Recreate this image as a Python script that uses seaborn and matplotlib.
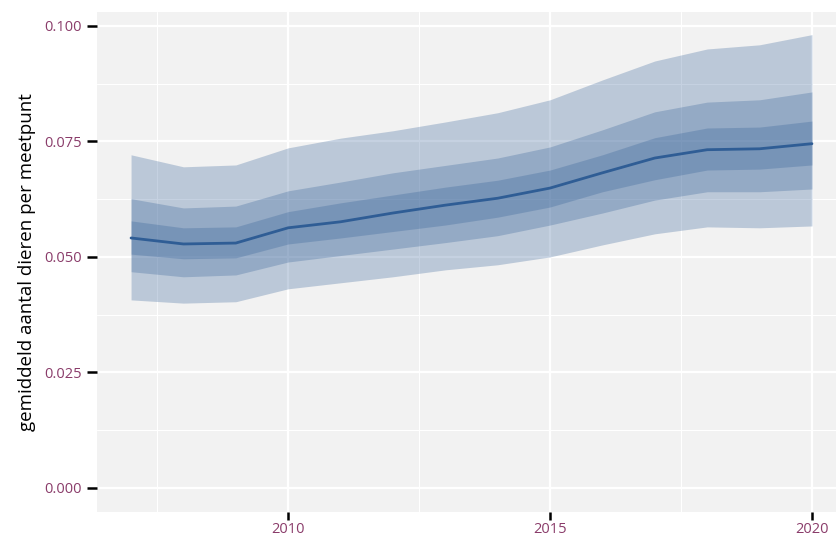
import matplotlib
matplotlib.use("Agg")
import matplotlib.pyplot as plt
import numpy as np
import pandas as pd
import seaborn as sns

# ---------------------- data ----------------------
jaren = [2007, 2008, 2009, 2010, 2011, 2012, 2013, 2014, 2015, 2016, 2017, 2018, 2019, 2020]
mediaan = [0.0541, 0.0528, 0.0530, 0.0563, 0.0576, 0.0595, 0.0612, 0.0627, 0.0649, 0.0682, 0.0714, 0.0732, 0.0734, 0.0745]
buiten_hoog = [0.0721, 0.0695, 0.0699, 0.0736, 0.0757, 0.0773, 0.0792, 0.0812, 0.0840, 0.0883, 0.0924, 0.0950, 0.0959, 0.0981]
buiten_laag = [0.0407, 0.0400, 0.0403, 0.0431, 0.0444, 0.0457, 0.0472, 0.0483, 0.0500, 0.0526, 0.0550, 0.0565, 0.0563, 0.0567]
midden_hoog = [0.0626, 0.0606, 0.0610, 0.0643, 0.0662, 0.0682, 0.0698, 0.0714, 0.0738, 0.0775, 0.0814, 0.0835, 0.0840, 0.0857]
midden_laag = [0.0468, 0.0457, 0.0461, 0.0489, 0.0503, 0.0517, 0.0531, 0.0546, 0.0569, 0.0595, 0.0623, 0.0641, 0.0641, 0.0647]
binnen_hoog = [0.0578, 0.0563, 0.0565, 0.0598, 0.0617, 0.0634, 0.0651, 0.0666, 0.0688, 0.0721, 0.0758, 0.0779, 0.0781, 0.0794]
binnen_laag = [0.0506, 0.0496, 0.0498, 0.0528, 0.0541, 0.0555, 0.0569, 0.0586, 0.0608, 0.0641, 0.0667, 0.0688, 0.0690, 0.0699]

df = pd.DataFrame({"jaar": jaren, "mediaan": mediaan})

# ---------------------- stijl ----------------------
sns.set_theme(style="whitegrid")
plt.rcParams["font.family"] = ["Open Sans", "DejaVu Sans"]

lijnkleur = "#2f5d95"
labelkleur = "#8a3c6a"

fig = plt.figure(figsize=(8.37, 5.39), dpi=100)
ax = fig.add_axes([97 / 837, 27 / 539, 749 / 837, 500 / 539])
ax.set_facecolor("#f2f2f2")

# banden (gestapeld met transparantie)
for laag, hoog in [(buiten_laag, buiten_hoog), (midden_laag, midden_hoog), (binnen_laag, binnen_hoog)]:
    ax.fill_between(jaren, laag, hoog, color=lijnkleur, alpha=0.28, linewidth=0, zorder=2)

sns.lineplot(data=df, x="jaar", y="mediaan", color=lijnkleur, linewidth=2, ax=ax, zorder=3)

# ---------------------- assen ----------------------
ax.set_xlim(2006.35, 2020.65)
ax.set_ylim(-0.0052, 0.1030)
ax.set_xticks([2010, 2015, 2020])
ax.set_yticks([0.0, 0.025, 0.05, 0.075, 0.1])
ax.set_yticklabels(["0.000", "0.025", "0.050", "0.075", "0.100"])
ax.set_xticks([2007.5, 2012.5, 2017.5], minor=True)
ax.set_yticks([0.0125, 0.0375, 0.0625, 0.0875], minor=True)

ax.grid(which="major", color="white", linewidth=1.6, zorder=1)
ax.grid(which="minor", color="white", linewidth=0.8, zorder=1)
ax.set_axisbelow(True)
for s in ax.spines.values():
    s.set_visible(False)

ax.tick_params(axis="both", which="major", direction="out", width=1.8,
               color="black", labelcolor=labelkleur, labelsize=10.5,
               left=True, bottom=True)
ax.tick_params(axis="y", which="major", length=7, pad=4)
ax.tick_params(axis="x", which="major", length=6, pad=1)
ax.tick_params(axis="both", which="minor", length=0)

ax.set_xlabel("")
ax.set_ylabel("gemiddeld aantal dieren per meetpunt", fontsize=13.5, color="black", labelpad=6)

fig.savefig("out.png", dpi=100)
